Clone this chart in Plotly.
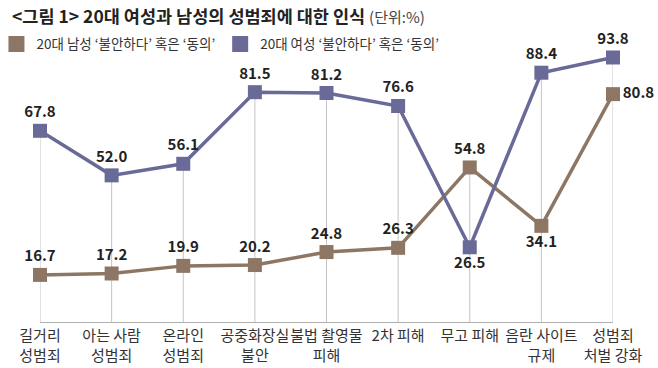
import plotly.graph_objects as go

categories = ["길거리<br>성범죄", "아는 사람<br>성범죄", "온라인<br>성범죄", "공중화장실<br>불안",
              "불법 촬영물<br>피해", "2차 피해", "무고 피해", "음란 사이트<br>규제", "성범죄<br>처벌 강화"]
male = [16.7, 17.2, 19.9, 20.2, 24.8, 26.3, 54.8, 34.1, 80.8]
female = [67.8, 52.0, 56.1, 81.5, 81.2, 76.6, 26.5, 88.4, 93.8]
male_name = "20대 남성 ‘불안하다’ 혹은 ‘동의’"
female_name = "20대 여성 ‘불안하다’ 혹은 ‘동의’"

MALE_C = "#8d7764"
FEMALE_C = "#6a6a98"
FONT = "Noto Sans CJK KR"

male_pos = ["top center"] * 7 + ["bottom center", "middle right"]
female_pos = ["top center"] * 6 + ["bottom center", "top center", "top center"]

xs = list(range(len(categories)))

# drop lines from the highest marker to the axis
gx, gy = [], []
for i in xs:
    gx += [i, i, None]
    gy += [0, max(male[i], female[i]), None]

fig = go.Figure()
fig.add_trace(go.Scatter(x=gx, y=gy, mode="lines", line=dict(color="#c4c4c4", width=1),
                         showlegend=False, hoverinfo="skip"))
fig.add_trace(go.Scatter(x=xs, y=male, mode="lines+markers+text", name=male_name,
                         line=dict(color=MALE_C, width=3.5),
                         marker=dict(symbol="square", size=14, color=MALE_C),
                         text=[f"{v:.1f}" for v in male], textposition=male_pos,
                         textfont=dict(size=15, color="#222", family=FONT, weight="bold"),
                         cliponaxis=False, showlegend=False))
fig.add_trace(go.Scatter(x=xs, y=female, mode="lines+markers+text", name=female_name,
                         line=dict(color=FEMALE_C, width=3.5),
                         marker=dict(symbol="square", size=14, color=FEMALE_C),
                         text=[f"{v:.1f}" for v in female], textposition=female_pos,
                         textfont=dict(size=15, color="#222", family=FONT, weight="bold"),
                         cliponaxis=False, showlegend=False))
# legend entries (square swatches)
fig.add_trace(go.Scatter(x=[None], y=[None], mode="markers", name=male_name,
                         marker=dict(symbol="square", size=19, color=MALE_C)))
fig.add_trace(go.Scatter(x=[None], y=[None], mode="markers", name=female_name,
                         marker=dict(symbol="square", size=19, color=FEMALE_C)))

fig.update_layout(
    width=658, height=368,
    margin=dict(l=40, r=45, t=40, b=46, autoexpand=False),
    paper_bgcolor="white", plot_bgcolor="white",
    font=dict(family=FONT, color="#333"),
    showlegend=True,
    legend=dict(orientation="h", x=-0.076, y=1.04,
                xanchor="left", yanchor="top", font=dict(size=13.5, color="#333"),
                itemsizing="trace", itemwidth=30, bgcolor="rgba(0,0,0,0)"),
    xaxis=dict(range=[0, 8], tickmode="array", tickvals=xs, ticktext=categories, tickangle=0,
               automargin=False,
               showgrid=False, zeroline=False, showline=True, linecolor="#b0b0b0", linewidth=1,
               ticks="", tickfont=dict(size=15, color="#333"), fixedrange=True),
    yaxis=dict(range=[0, 100], visible=False, showgrid=False, zeroline=False, fixedrange=True,
               automargin=False),
    annotations=[
        dict(xref="paper", yref="paper", x=-0.052, y=1.087, xanchor="left", yanchor="middle",
             showarrow=False,
             text="<b>&lt;그림 1&gt; 20대 여성과 남성의 성범죄에 대한 인식</b> <span style='font-size:15px;color:#444'>(단위:%)</span>",
             font=dict(size=17.5, color="#222", family=FONT)),
    ],
)

fig.write_html("out.html", config={"displayModeBar": False},
               post_script="document.body.style.margin='0';document.body.style.overflow='hidden';")
